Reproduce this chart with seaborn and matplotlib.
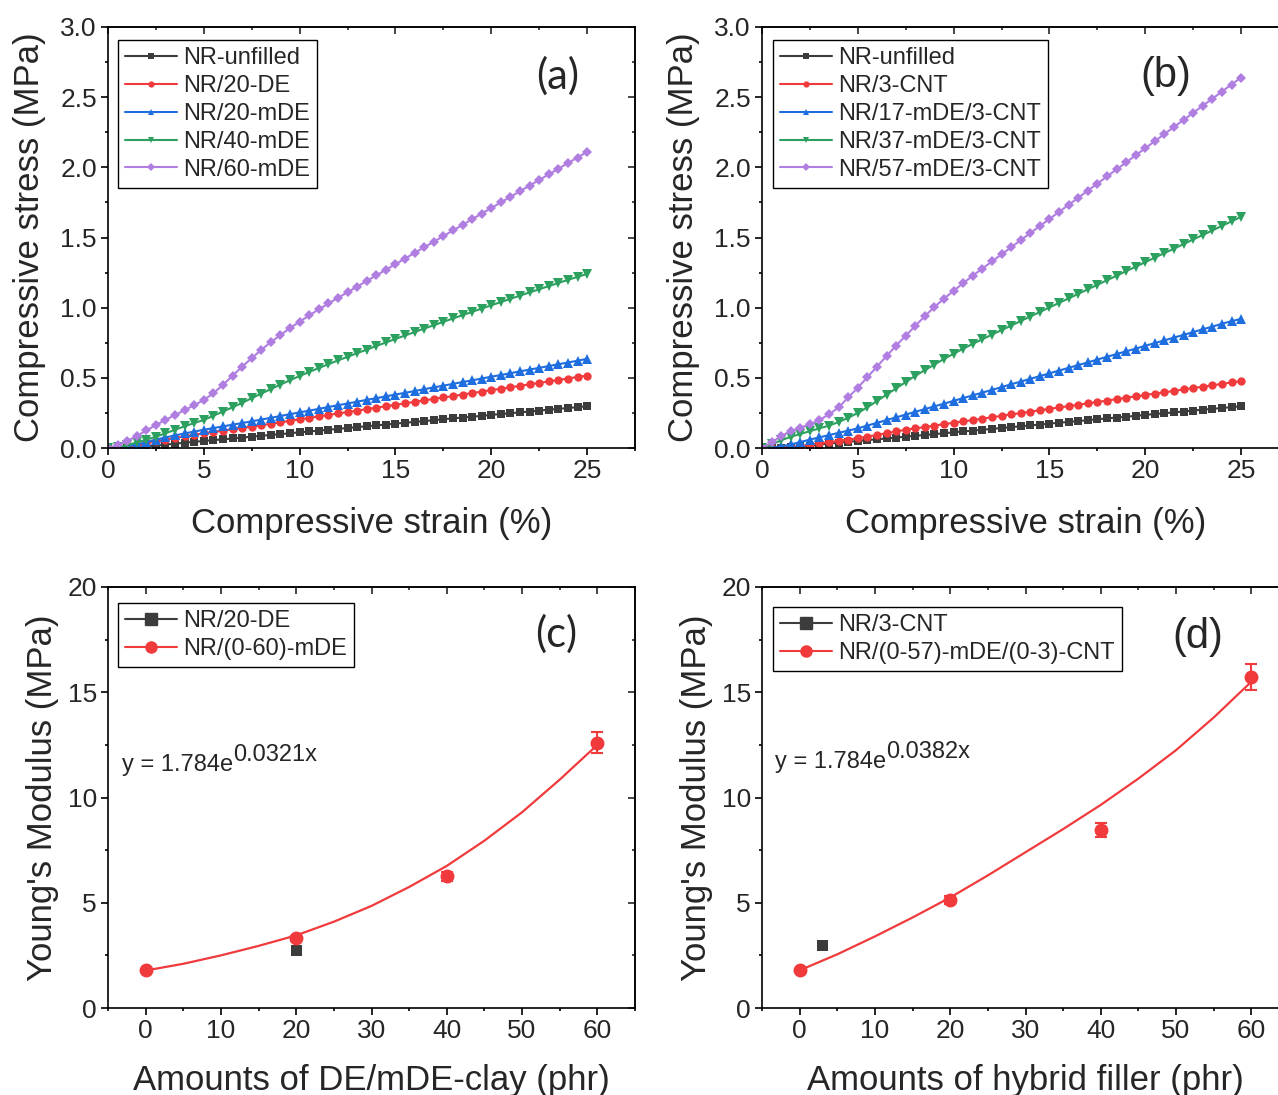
import numpy as np
import pandas as pd
import matplotlib
matplotlib.use("Agg")
import matplotlib.pyplot as plt
import seaborn as sns
from matplotlib.lines import Line2D
from matplotlib.ticker import MultipleLocator, FormatStrFormatter

# 1. Data

strain = np.arange(0, 25.01, 0.5)

# (a) NR / DE / mDE series (MPa)
nr_unfilled = [0, 0, 0.002, 0.006, 0.011, 0.017, 0.024, 0.031, 0.038, 0.044, 0.05,
               0.056, 0.062, 0.068, 0.074, 0.081, 0.087, 0.093, 0.099, 0.105, 0.112,
               0.118, 0.124, 0.13, 0.136, 0.143, 0.149, 0.155, 0.161, 0.167, 0.174,
               0.18, 0.186, 0.192, 0.198, 0.205, 0.211, 0.217, 0.223, 0.229, 0.236,
               0.242, 0.248, 0.254, 0.26, 0.267, 0.273, 0.279, 0.285, 0.291, 0.298]
nr_20de = [0, 0.002, 0.01, 0.022, 0.035, 0.048, 0.06, 0.071, 0.083, 0.094, 0.105,
           0.114, 0.124, 0.133, 0.143, 0.152, 0.162, 0.173, 0.183, 0.194, 0.204,
           0.214, 0.225, 0.235, 0.246, 0.256, 0.266, 0.277, 0.287, 0.298, 0.308,
           0.318, 0.329, 0.339, 0.35, 0.36, 0.37, 0.381, 0.391, 0.402, 0.412,
           0.422, 0.433, 0.443, 0.454, 0.464, 0.474, 0.485, 0.495, 0.506, 0.516]
nr_20mde = [0, 0.003, 0.012, 0.025, 0.042, 0.06, 0.075, 0.09, 0.104, 0.117, 0.13,
            0.142, 0.154, 0.166, 0.178, 0.19, 0.203, 0.215, 0.228, 0.241, 0.254,
            0.266, 0.279, 0.292, 0.305, 0.317, 0.33, 0.343, 0.355, 0.368, 0.381,
            0.393, 0.406, 0.419, 0.432, 0.444, 0.457, 0.47, 0.482, 0.495, 0.508,
            0.52, 0.533, 0.546, 0.559, 0.571, 0.584, 0.597, 0.609, 0.622, 0.635]
nr_40mde = [0, 0.005, 0.02, 0.04, 0.06, 0.08, 0.105, 0.13, 0.155, 0.178, 0.2,
            0.23, 0.26, 0.29, 0.322, 0.355, 0.388, 0.42, 0.452, 0.483, 0.513,
            0.542, 0.57, 0.597, 0.624, 0.65, 0.676, 0.701, 0.727, 0.752, 0.777,
            0.802, 0.826, 0.851, 0.875, 0.899, 0.923, 0.947, 0.97, 0.994, 1.017,
            1.04, 1.063, 1.086, 1.109, 1.131, 1.154, 1.176, 1.198, 1.22, 1.24]
nr_60mde = [0, 0.02, 0.05, 0.085, 0.125, 0.164, 0.2, 0.235, 0.27, 0.305, 0.342,
            0.39, 0.45, 0.515, 0.58, 0.64, 0.7, 0.755, 0.805, 0.855, 0.9,
            0.945, 0.988, 1.03, 1.07, 1.11, 1.15, 1.19, 1.23, 1.27, 1.31,
            1.35, 1.39, 1.43, 1.47, 1.51, 1.55, 1.59, 1.63, 1.67, 1.71,
            1.75, 1.79, 1.83, 1.87, 1.91, 1.95, 1.99, 2.03, 2.07, 2.11]

# (b) hybrid filler series (MPa)
nr_3cnt = [0, 0, 0.002, 0.006, 0.014, 0.024, 0.033, 0.042, 0.051, 0.06, 0.069,
           0.081, 0.093, 0.106, 0.118, 0.13, 0.14, 0.15, 0.16, 0.17, 0.18,
           0.19, 0.199, 0.209, 0.219, 0.229, 0.239, 0.249, 0.259, 0.269, 0.279,
           0.289, 0.298, 0.308, 0.318, 0.328, 0.338, 0.348, 0.358, 0.368, 0.378,
           0.388, 0.397, 0.407, 0.417, 0.427, 0.437, 0.447, 0.457, 0.467, 0.477]
nr_17mde_3cnt = [0, 0.003, 0.012, 0.025, 0.042, 0.06, 0.076, 0.092, 0.108, 0.124, 0.14,
                 0.16, 0.179, 0.199, 0.218, 0.238, 0.258, 0.277, 0.297, 0.316, 0.336,
                 0.356, 0.375, 0.395, 0.414, 0.434, 0.454, 0.473, 0.493, 0.512, 0.532,
                 0.552, 0.571, 0.591, 0.61, 0.63, 0.65, 0.669, 0.689, 0.708, 0.728,
                 0.748, 0.767, 0.787, 0.806, 0.826, 0.846, 0.865, 0.885, 0.904, 0.92]
nr_37mde_3cnt = [0, 0.025, 0.055, 0.08, 0.1, 0.12, 0.14, 0.16, 0.185, 0.215, 0.25,
                 0.29, 0.335, 0.38, 0.425, 0.47, 0.515, 0.555, 0.595, 0.635, 0.672,
                 0.708, 0.742, 0.775, 0.808, 0.84, 0.872, 0.905, 0.937, 0.969, 1.002,
                 1.034, 1.066, 1.098, 1.131, 1.163, 1.195, 1.228, 1.26, 1.292, 1.324,
                 1.357, 1.389, 1.421, 1.453, 1.486, 1.518, 1.55, 1.583, 1.615, 1.647]
nr_57mde_3cnt = [0, 0.04, 0.085, 0.12, 0.145, 0.17, 0.2, 0.24, 0.29, 0.36, 0.43,
                 0.505, 0.58, 0.655, 0.73, 0.8, 0.87, 0.94, 1.005, 1.065, 1.12,
                 1.175, 1.228, 1.279, 1.329, 1.38, 1.43, 1.481, 1.531, 1.582, 1.632,
                 1.682, 1.733, 1.783, 1.834, 1.884, 1.935, 1.985, 2.035, 2.086, 2.136,
                 2.187, 2.237, 2.288, 2.338, 2.388, 2.439, 2.489, 2.54, 2.59, 2.64]

labels_a = ["NR-unfilled", "NR/20-DE", "NR/20-mDE", "NR/40-mDE", "NR/60-mDE"]
labels_b = ["NR-unfilled", "NR/3-CNT", "NR/17-mDE/3-CNT", "NR/37-mDE/3-CNT", "NR/57-mDE/3-CNT"]

# (c) Young's modulus vs DE/mDE-clay
amount_c = [0, 20, 40, 60]
modulus_c = [1.79, 3.32, 6.25, 12.6]
error_c = [0.05, 0.12, 0.2, 0.5]
de_amount = [20]
de_modulus = [2.73]
fit_x = [0, 5, 10, 15, 20, 25, 30, 35, 40, 45, 50, 55, 60]
fit_c = [1.78, 2.1, 2.5, 2.95, 3.45, 4.1, 4.85, 5.75, 6.75, 7.95, 9.3, 10.85, 12.5]

# (d) Young's modulus vs hybrid filler
amount_d = [0, 20, 40, 60]
modulus_d = [1.79, 5.14, 8.46, 15.73]
error_d = [0.05, 0.2, 0.35, 0.6]
cnt_amount = [3]
cnt_modulus = [2.97]
fit_d = [1.79, 2.55, 3.4, 4.3, 5.25, 6.3, 7.4, 8.5, 9.65, 10.9, 12.25, 13.8, 15.5]

# 2. Style

sns.set_theme(style="ticks")
plt.rcParams["font.family"] = ["Liberation Sans", "DejaVu Sans"]
plt.rcParams["axes.linewidth"] = 1.2

colors = ["#3c3c3c", "#f03a3c", "#1f6ee0", "#2ca05e", "#b07ee0"]
markers = ["s", "o", "^", "v", "D"]
marker_sizes = [5.5, 6, 7, 7, 5.5]

TICK = 19
LABEL = 25
LEG = 17

fig = plt.figure(figsize=(12.78, 10.95), dpi=100)
W, H = 527 / 1278, 421 / 1095
ax_a = fig.add_axes([108 / 1278, 647 / 1095, W, H])
ax_b = fig.add_axes([762 / 1278, 647 / 1095, W, H])
ax_c = fig.add_axes([108 / 1278, 87 / 1095, W, H])
ax_d = fig.add_axes([762 / 1278, 87 / 1095, W, H])


def style_axis(ax, xmaj, xmin, ymaj, ymin, yfmt):
    ax.xaxis.set_major_locator(MultipleLocator(xmaj))
    ax.xaxis.set_minor_locator(MultipleLocator(xmin))
    ax.yaxis.set_major_locator(MultipleLocator(ymaj))
    ax.yaxis.set_minor_locator(MultipleLocator(ymin))
    ax.yaxis.set_major_formatter(FormatStrFormatter(yfmt))
    ax.tick_params(which="major", direction="out", length=5, width=1.2,
                   labelsize=TICK, pad=3, color="black")
    ax.tick_params(which="minor", direction="out", length=2.5, width=1.2, color="black")
    for s in ax.spines.values():
        s.set_color("black")
        s.set_linewidth(1.2)
    # mirrored ticks on top / right, pointing inward
    top = ax.secondary_xaxis("top")
    top.xaxis.set_major_locator(MultipleLocator(xmaj))
    top.xaxis.set_minor_locator(MultipleLocator(xmin))
    top.tick_params(which="major", direction="in", length=5, width=1.2, labeltop=False)
    top.tick_params(which="minor", direction="in", length=2.5, width=1.2)
    right = ax.secondary_yaxis("right")
    right.yaxis.set_major_locator(MultipleLocator(ymaj))
    right.yaxis.set_minor_locator(MultipleLocator(ymin))
    right.tick_params(which="major", direction="in", length=5, width=1.2, labelright=False)
    right.tick_params(which="minor", direction="in", length=2.5, width=1.2)


def legend_box(ax, handles, labels, anchor):
    leg = ax.legend(handles, labels, loc="upper left", bbox_to_anchor=anchor,
                    fontsize=LEG, frameon=True, fancybox=False, framealpha=1,
                    edgecolor="black", borderpad=0.3, handlelength=2.2,
                    handletextpad=0.25, labelspacing=0.25, borderaxespad=0)
    leg.get_frame().set_linewidth(1.0)


# 3. Stress-strain panels

def stress_panel(ax, series, labels, tag, tag_xy, tag_font, anchor):
    df = pd.DataFrame({
        "strain": np.tile(strain, len(series)),
        "stress": np.concatenate(series),
        "sample": np.repeat(labels, len(strain)),
    })
    sns.lineplot(data=df, x="strain", y="stress", hue="sample", style="sample",
                 hue_order=labels, style_order=labels, palette=colors,
                 markers=markers, dashes=False, markersize=6, markeredgewidth=0,
                 linewidth=1.5, estimator=None, sort=False, ax=ax, legend=False)
    for line, ms in zip(ax.lines, marker_sizes):
        line.set_markersize(ms)
    ax.set_xlim(0, 27.5)
    ax.set_ylim(0, 3.0)
    style_axis(ax, 5, 2.5, 0.5, 0.25, "%.1f")
    ax.set_xlabel("Compressive strain (%)", fontsize=LABEL, labelpad=17)
    ax.set_ylabel("Compressive stress (MPa)", fontsize=LABEL, labelpad=10)
    handles = [Line2D([], [], color=c, marker=m, markersize=4.5, markeredgewidth=0, lw=1.5)
               for c, m in zip(colors, markers)]
    legend_box(ax, handles, labels, anchor)
    ax.text(tag_xy[0], tag_xy[1], tag, transform=ax.transAxes, ha="center",
            va="center", fontsize=30, family=tag_font)


stress_panel(ax_a, [nr_unfilled, nr_20de, nr_20mde, nr_40mde, nr_60mde], labels_a,
             "(a)", (0.854, 0.884), ["Lato", "DejaVu Sans"], (0.019, 0.969))
stress_panel(ax_b, [nr_unfilled, nr_3cnt, nr_17mde_3cnt, nr_37mde_3cnt, nr_57mde_3cnt],
             labels_b, "(b)", (0.767, 0.884), ["Liberation Sans", "DejaVu Sans"],
             (0.021, 0.969))

# 4. Young's modulus panels

def modulus_panel(ax, amt, mod, err, ref_x, ref_y, fit_y, labels, eq, exp_txt,
                  tag, tag_xy, tag_font, anchor, xlabel):
    sns.lineplot(x=fit_x, y=fit_y, color=colors[1], linewidth=1.6, ax=ax)
    ax.errorbar(amt, mod, yerr=err, fmt="o", color=colors[1], markersize=9,
                capsize=4, elinewidth=1.5, capthick=1.5, zorder=3)
    sns.scatterplot(x=ref_x, y=ref_y, marker="s", color=colors[0], s=60,
                    edgecolor="none", ax=ax, zorder=3)
    ax.set_xlim(-5, 65)
    ax.set_ylim(0, 20)
    style_axis(ax, 10, 5, 5, 2.5, "%d")
    ax.set_xlabel(xlabel, fontsize=LABEL, labelpad=15)
    ax.set_ylabel("Young's Modulus (MPa)", fontsize=LABEL, labelpad=6)
    handles = [Line2D([], [], color=colors[0], marker="s", markersize=8, lw=1.5),
               Line2D([], [], color=colors[1], marker="o", markersize=8, lw=1.5)]
    legend_box(ax, handles, labels, anchor)
    t = ax.text(eq[0], eq[1], "y = 1.784e", transform=ax.transAxes, ha="left",
                va="center", fontsize=17)
    ax.annotate(exp_txt, xy=(1, 0.45), xycoords=t, ha="left", va="bottom", fontsize=17)
    ax.text(tag_xy[0], tag_xy[1], tag, transform=ax.transAxes, ha="center",
            va="center", fontsize=30, family=tag_font)


modulus_panel(ax_c, amount_c, modulus_c, error_c, de_amount, de_modulus, fit_c,
              ["NR/20-DE", "NR/(0-60)-mDE"], (0.027, 0.577), "0.0321x",
              "(c)", (0.85, 0.888), ["Lato", "DejaVu Sans"], (0.019, 0.962),
              "Amounts of DE/mDE-clay (phr)")
modulus_panel(ax_d, amount_d, modulus_d, error_d, cnt_amount, cnt_modulus, fit_d,
              ["NR/3-CNT", "NR/(0-57)-mDE/(0-3)-CNT"], (0.025, 0.584), "0.0382x",
              "(d)", (0.827, 0.881), ["Liberation Sans", "DejaVu Sans"], (0.021, 0.952),
              "Amounts of hybrid filler (phr)")

fig.savefig("out.png", dpi=100)
